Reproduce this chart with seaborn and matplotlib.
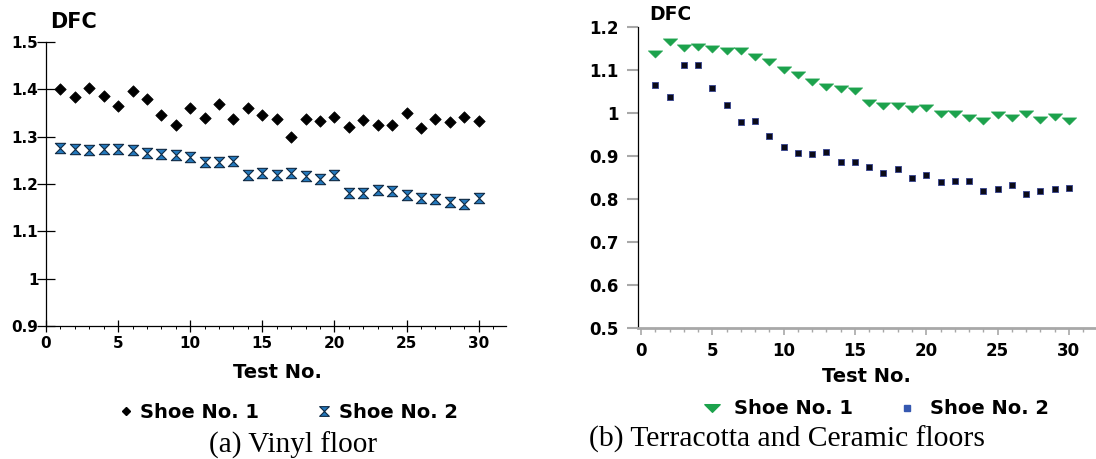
import numpy as np
import pandas as pd
import matplotlib
matplotlib.use('Agg')
import matplotlib.pyplot as plt
from matplotlib.path import Path
from matplotlib.lines import Line2D
from matplotlib.ticker import MultipleLocator
import seaborn as sns

# test numbers
tests = list(range(1, 31))

# (a) vinyl floor
vinyl_shoe1 = [1.400, 1.384, 1.403, 1.385, 1.365, 1.396, 1.379, 1.345, 1.325, 1.360,
               1.339, 1.369, 1.338, 1.360, 1.346, 1.338, 1.300, 1.338, 1.333, 1.341,
               1.321, 1.336, 1.324, 1.324, 1.349, 1.319, 1.338, 1.332, 1.342, 1.333]
vinyl_shoe2 = [1.277, 1.274, 1.271, 1.274, 1.274, 1.272, 1.265, 1.263, 1.261, 1.258,
               1.247, 1.246, 1.249, 1.219, 1.223, 1.219, 1.224, 1.216, 1.211, 1.220,
               1.182, 1.182, 1.188, 1.186, 1.177, 1.170, 1.169, 1.162, 1.157, 1.170]

# (b) terracotta and ceramic floors
terra_shoe1 = [1.136, 1.165, 1.150, 1.152, 1.149, 1.144, 1.144, 1.129, 1.119, 1.099,
               1.088, 1.072, 1.059, 1.054, 1.050, 1.023, 1.016, 1.016, 1.008, 1.012,
               0.998, 0.997, 0.987, 0.981, 0.995, 0.988, 0.998, 0.984, 0.989, 0.981]
terra_shoe2 = [1.064, 1.037, 1.110, 1.110, 1.057, 1.017, 0.978, 0.981, 0.946, 0.920,
               0.907, 0.904, 0.908, 0.886, 0.885, 0.874, 0.859, 0.869, 0.849, 0.855,
               0.839, 0.840, 0.842, 0.817, 0.822, 0.831, 0.811, 0.817, 0.823, 0.825]

labels = ['Shoe No. 1', 'Shoe No. 2']
xticks = [0, 5, 10, 15, 20, 25, 30]
yticks_a = [0.9, 1.0, 1.1, 1.2, 1.3, 1.4, 1.5]
ylabels_a = ['0.9', '1', '1.1', '1.2', '1.3', '1.4', '1.5']
yticks_b = [0.5, 0.6, 0.7, 0.8, 0.9, 1.0, 1.1, 1.2]
ylabels_b = ['0.5', '0.6', '0.7', '0.8', '0.9', '1', '1.1', '1.2']

df_a = pd.DataFrame({'test': tests, 's1': vinyl_shoe1, 's2': vinyl_shoe2})
df_b = pd.DataFrame({'test': tests, 's1': terra_shoe1, 's2': terra_shoe2})

sns.set_style('white')
plt.rcParams['font.family'] = ['DejaVu Sans']
plt.rcParams['text.color'] = 'black'
plt.rcParams['xtick.color'] = 'black'
plt.rcParams['ytick.color'] = 'black'

W, H = 1096, 459
fig = plt.figure(figsize=(W / 100, H / 100), dpi=100)

# hourglass and flat triangle markers
hourglass = Path([(-1, 1), (1, 1), (-1, -1), (1, -1), (-1, 1)],
                 [Path.MOVETO, Path.LINETO, Path.LINETO, Path.LINETO, Path.CLOSEPOLY])
flat_tri = Path([(-1, 0.5), (1, 0.5), (0, -0.5), (-1, 0.5)],
                [Path.MOVETO, Path.LINETO, Path.LINETO, Path.CLOSEPOLY])

blue_h = '#2479bd'
green = '#1ca24c'

# ---- left panel ----
ax1 = fig.add_axes([46 / W, 1 - 326 / H, 460 / W, 284 / H])
sns.scatterplot(data=df_a, x='test', y='s1', ax=ax1, marker='D', color='black',
                s=34, edgecolor='black', linewidth=0.5)
sns.scatterplot(data=df_a, x='test', y='s2', ax=ax1, marker=hourglass, color=blue_h,
                s=55, edgecolor='#102a44', linewidth=0.8)
ax1.set_xlim(0, 31.9)
ax1.set_ylim(0.9, 1.5)
ax1.set_xlabel('')
ax1.set_ylabel('')
ax1.set_xticks(xticks, [str(x) for x in xticks], fontweight='bold', fontsize=11)
ax1.xaxis.set_minor_locator(MultipleLocator(1))
ax1.set_yticks(yticks_a, ylabels_a, fontweight='bold', fontsize=11)
for s in ['top', 'right']:
    ax1.spines[s].set_visible(False)
for s in ['left', 'bottom']:
    ax1.spines[s].set_color('black')
    ax1.spines[s].set_linewidth(0.9)
ax1.tick_params(axis='y', direction='inout', length=13, width=0.9, color='black',
                pad=-1, left=True)
ax1.tick_params(axis='x', which='major', direction='inout', length=8, width=0.9,
                color='black', pad=3, bottom=True)
ax1.tick_params(axis='x', which='minor', direction='out', length=2.5, width=0.7,
                color='black', bottom=True)

# ---- right panel ----
ax2 = fig.add_axes([638 / W, 1 - 327.7 / H, 458 / W, 301 / H])
sns.scatterplot(data=df_b, x='test', y='s1', ax=ax2, marker=flat_tri, color=green,
                s=110, edgecolor=green, linewidth=0.3)
sns.scatterplot(data=df_b, x='test', y='s2', ax=ax2, marker='s', color='#0b0b18',
                s=20, edgecolor='#34428f', linewidth=0.6)
ax2.set_xlim(-0.21, 31.9)
ax2.set_ylim(0.5, 1.2)
ax2.set_xlabel('')
ax2.set_ylabel('')
ax2.set_xticks(xticks, [str(x) for x in xticks], fontweight='bold', fontsize=12)
ax2.xaxis.set_minor_locator(MultipleLocator(1))
ax2.set_yticks(yticks_b, ylabels_b, fontweight='bold', fontsize=12)
for s in ['top', 'right']:
    ax2.spines[s].set_visible(False)
ax2.spines['left'].set_color('black')
ax2.spines['left'].set_linewidth(0.9)
ax2.spines['bottom'].set_color('#a8a8a8')
ax2.spines['bottom'].set_linewidth(2)
ax2.tick_params(axis='y', direction='out', length=8, width=1.5, color='#a8a8a8',
                pad=6, left=True)
ax2.tick_params(axis='x', which='major', direction='out', length=5, width=1.2,
                color='#a8a8a8', pad=5, bottom=True)
ax2.tick_params(axis='x', which='minor', direction='out', length=3, width=1,
                color='#a8a8a8', bottom=True)

# ---- titles / labels ----
fig.text(74 / W, 1 - 22 / H, 'DFC', fontsize=15, fontweight='bold', ha='center', va='center')
fig.text(670 / W, 1 - 15 / H, 'DFC', fontsize=13.5, fontweight='bold', ha='center', va='center')
fig.text(277 / W, 1 - 372 / H, 'Test No.', fontsize=14, fontweight='bold', ha='center', va='center')
fig.text(866 / W, 1 - 377 / H, 'Test No.', fontsize=14, fontweight='bold', ha='center', va='center')

# legends
h_a = [Line2D([], [], ls='', marker='D', ms=4.5, color='black'),
       Line2D([], [], ls='', marker=hourglass, ms=7, markerfacecolor=blue_h,
              markeredgecolor='#102a44', markeredgewidth=0.8)]
fig.legend(h_a, labels, loc='center left', bbox_to_anchor=(117 / W, 1 - 412 / H), ncol=2,
           frameon=False, handlelength=0.9, handletextpad=0.3, columnspacing=2.9,
           borderpad=0, borderaxespad=0, prop={'weight': 'bold', 'size': 14})
h_b = [Line2D([], [], ls='', marker=flat_tri, ms=11, color=green),
       Line2D([], [], ls='', marker='s', ms=4, color='#3558b0')]
fig.legend(h_b, labels, loc='center left', bbox_to_anchor=(700 / W, 1 - 409 / H), ncol=2,
           frameon=False, handlelength=1.2, handletextpad=0.55, columnspacing=2.2,
           borderpad=0, borderaxespad=0, prop={'weight': 'bold', 'size': 14})

# captions
fig.text(293 / W, 1 - 445 / H, '(a) Vinyl floor', fontsize=21, fontweight='normal',
         family='Liberation Serif', ha='center', va='center')
fig.text(787 / W, 1 - 439 / H, '(b) Terracotta and Ceramic floors', fontsize=21.3,
         fontweight='normal', family='Liberation Serif', ha='center', va='center')

fig.savefig('out.png', dpi=100)
